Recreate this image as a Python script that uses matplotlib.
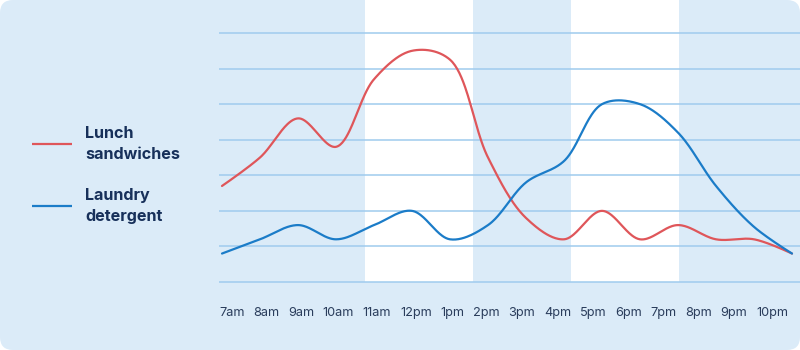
import numpy as np
import matplotlib
matplotlib.use("Agg")
import matplotlib.pyplot as plt
from matplotlib.patches import FancyBboxPatch

# ---- data -------------------------------------------------------------
hours = ["7am", "8am", "9am", "10am", "11am", "12pm", "1pm", "2pm",
         "3pm", "4pm", "5pm", "6pm", "7pm", "8pm", "9pm", "10pm"]
lunch_sandwiches = [27, 35, 46, 38, 57, 65, 62.5, 35, 18, 12, 20, 12, 16, 12, 12, 8]
laundry_detergent = [8, 12, 16, 12, 16, 20, 12, 16, 28, 34, 50, 50, 42, 27, 15.5, 8]
series_names = ["Lunch\nsandwiches", "Laundry\ndetergent"]
grid_values = [0, 10, 20, 30, 40, 50, 60, 70]

# ---- style ------------------------------------------------------------
BG = "#dbebf8"
GRID = "#9fcbee"
RED = "#df565a"
BLUE = "#1b7cc8"
NAVY = "#17305a"
TICK = "#2a3d5c"
FONT = ["Inter", "DejaVu Sans"]

W, H = 800, 350
left_px, right_px = 219, 800
x0_px, step_px = 222, 38            # first point position and point spacing
base_px, unit_px = 282, 35.57 / 10  # y=0 position and px per unit
bottom_px = 290


def catmull_rom(x, y, sx, sy, alpha=0.5, n=40):
    """Centripetal Catmull-Rom curve through the points, built in screen units."""
    P = np.column_stack([np.asarray(x, float) * sx, np.asarray(y, float) * sy])
    out = []
    t = np.linspace(0, 1, n, endpoint=False)[:, None]
    k = len(P)
    for i in range(k - 1):
        p0 = P[i - 1] if i > 0 else P[i]
        p1, p2 = P[i], P[i + 1]
        p3 = P[i + 2] if i + 2 < k else P[i + 1]
        d01 = np.linalg.norm(p1 - p0)
        d12 = np.linalg.norm(p2 - p1)
        d23 = np.linalg.norm(p3 - p2)
        l01a, l12a, l23a = d01 ** alpha, d12 ** alpha, d23 ** alpha
        l01_2a, l12_2a, l23_2a = d01 ** (2 * alpha), d12 ** (2 * alpha), d23 ** (2 * alpha)
        if l01a > 1e-9:
            a = 2 * l01_2a + 3 * l01a * l12a + l12_2a
            nn = 3 * l01a * (l01a + l12a)
            c1 = (p1 * a - p0 * l12_2a + p2 * l01_2a) / nn
        else:
            c1 = p1
        if l23a > 1e-9:
            b = 2 * l23_2a + 3 * l23a * l12a + l12_2a
            m = 3 * l23a * (l23a + l12a)
            c2 = (p2 * b + p1 * l23_2a - p3 * l12_2a) / m
        else:
            c2 = p2
        seg = ((1 - t) ** 3) * p1 + 3 * ((1 - t) ** 2) * t * c1 \
            + 3 * (1 - t) * t ** 2 * c2 + t ** 3 * p2
        out.append(seg)
    out.append(P[-1:])
    C = np.vstack(out)
    return C[:, 0] / sx, C[:, 1] / sy


fig = plt.figure(figsize=(W / 100, H / 100), dpi=100)
fig.patch.set_facecolor("white")

# background card, pixel coordinates
bg = fig.add_axes([0, 0, 1, 1])
bg.set_xlim(0, W)
bg.set_ylim(H, 0)
bg.axis("off")
bg.add_patch(FancyBboxPatch((0, 0), W, H, boxstyle="round,pad=0,rounding_size=13",
                            facecolor=BG, edgecolor="none"))

# plot area: spans from the top of the card down past the lowest gridline
ax = fig.add_axes([left_px / W, (H - bottom_px) / H, (right_px - left_px) / W, bottom_px / H])
ax.set_xlim((left_px - x0_px) / step_px, (right_px - x0_px) / step_px)
ax.set_ylim((base_px - bottom_px) / unit_px, base_px / unit_px)
ax.patch.set_alpha(0)
ax.axis("off")

# white time bands
band_px = [(365, 473), (571, 679)]
ymin_frac = (bottom_px - base_px) / bottom_px
for a, b in band_px:
    ax.axvspan((a - x0_px) / step_px, (b - x0_px) / step_px, ymin=ymin_frac, ymax=1,
               facecolor="white", edgecolor="none", zorder=0)

for g in grid_values:
    ax.axhline(g, color=GRID, lw=1.1, zorder=1)

xs = np.arange(len(hours))
for vals, col in ((lunch_sandwiches, RED), (laundry_detergent, BLUE)):
    cx, cy = catmull_rom(xs, vals, step_px, unit_px)
    ax.plot(cx, cy, color=col, lw=1.6, solid_capstyle="round", zorder=3)

# hour labels laid out as a row filling the plot width
fig.canvas.draw()
renderer = fig.canvas.get_renderer()
texts = []
for h in hours:
    t = bg.text(0, 316, h, fontsize=9.2, family=FONT, color=TICK, ha="left", va="baseline")
    texts.append(t)
widths = [t.get_window_extent(renderer).width for t in texts]
row_start, row_end = 219, 788
gap = (row_end - row_start - sum(widths)) / (len(hours) - 1)
pos = row_start
for t, w in zip(texts, widths):
    t.set_x(pos)
    pos += w + gap

# legend
legend_y = [144, 206]
for name, col, ly in zip(series_names, (RED, BLUE), legend_y):
    bg.plot([32, 72], [ly, ly], color=col, lw=1.6, solid_capstyle="butt")
    first, second = name.split("\n")
    bg.text(85, ly - 6, first, fontsize=11.6, fontweight="bold", family=FONT,
            color=NAVY, ha="left", va="baseline")
    bg.text(85, ly + 15, second, fontsize=11.6, fontweight="bold", family=FONT,
            color=NAVY, ha="left", va="baseline")

fig.savefig("out.png", dpi=100, facecolor="white")
